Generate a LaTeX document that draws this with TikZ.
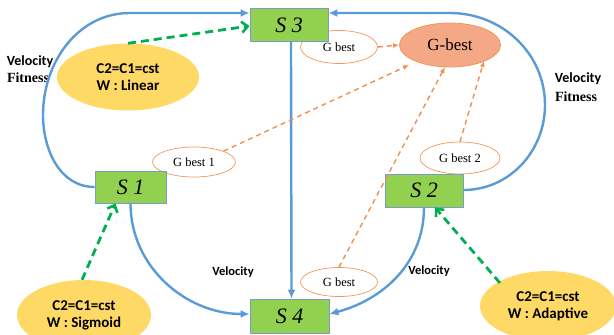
\documentclass[tikz,border=0pt]{standalone}
\usepackage{fontspec}
\setmainfont{Liberation Serif}
\newfontfamily\calib{Carlito}
\usetikzlibrary{arrows.meta,shapes.geometric}
\definecolor{lblue}{HTML}{5B9BD5}
\definecolor{boxgreen}{HTML}{92D050}
\definecolor{boxedge}{HTML}{7A9CC6}
\definecolor{ylw}{HTML}{FFD966}
\definecolor{salmon}{HTML}{F4A886}
\definecolor{orng}{HTML}{ED7D31}
\definecolor{dgreen}{HTML}{00B050}
\tikzset{
  sbox/.style={draw=boxedge, line width=0.8pt, fill=boxgreen, minimum width=78pt, minimum height=33pt, inner sep=0pt, font=\fontsize{22}{22}\selectfont\itshape},
  gsmall/.style={ellipse, draw=orng!80, line width=0.7pt, fill=white, inner sep=0pt, font=\fontsize{12.5}{13}\selectfont},
  ylwell/.style={ellipse, fill=ylw, inner sep=0pt, align=center, font=\calib\bfseries\fontsize{15}{17}\selectfont},
  bluearr/.style={draw=lblue, line width=2.4pt, -{Latex[length=9pt,width=8pt]}},
  greenarr/.style={draw=dgreen, line width=2.8pt, dash pattern=on 8pt off 5pt, -{Straight Barb[length=6pt,width=11pt,line width=2.6pt]}},
  orarr/.style={draw=orng!85, line width=1.4pt, dash pattern=on 5pt off 4pt, -{Latex[length=6pt,width=5pt]}},
  lbl/.style={font=\calib\bfseries\fontsize{14}{16}\selectfont, inner sep=0pt},
  slbl/.style={font=\calib\bfseries\fontsize{12.5}{14}\selectfont, inner sep=0pt},
  fit/.style={font=\bfseries\fontsize{14}{16}\selectfont, inner sep=0pt},
}
\begin{document}
\begin{tikzpicture}[x=1pt,y=-1pt]
\useasboundingbox (0,0) rectangle (614,335);
% small ellipses
\node[gsmall, minimum width=77pt, minimum height=33pt] (gb3) at (339,47) {G best};
\node[gsmall, minimum width=83pt, minimum height=30pt] (gb1) at (194,162) {G best 1};
\node[gsmall, minimum width=80pt, minimum height=32pt] (gb2) at (460,158) {G best 2};
\node[gsmall, minimum width=77pt, minimum height=29pt] (gb4) at (339,282) {G best};
\node[ellipse, draw=orng!80, line width=0.8pt, fill=salmon, minimum width=101pt, minimum height=44pt, inner sep=0pt, font=\fontsize{17}{18}\selectfont] (gbest) at (450,45) {G-best};
% boxes
\node[sbox] (s3) at (289,25) {S 3};
\node[sbox, minimum width=71pt, minimum height=32pt] (s1) at (130.5,187) {S 1};
\node[sbox] (s2) at (424,190.5) {S 2};
\node[sbox, minimum width=79pt, minimum height=34pt] (s4) at (289.5,316) {S 4};
% yellow ellipses
\node[ylwell, minimum width=142pt, minimum height=67pt] (yl) at (128,77) {C2=C1=cst\\W : Linear};
\node[ylwell, minimum width=134pt, minimum height=70pt] (ys) at (84,315) {C2=C1=cst\\W : Sigmoid};
\node[ylwell, minimum width=136pt, minimum height=70pt] (ya) at (548,306) {C2=C1=cst\\W : Adaptive};
% labels
\node[lbl] (v1) at (30,62) {Velocity};
\node[fit] (f1) at (28,78) {Fitness};
\node[lbl] (v2) at (578,79) {Velocity};
\node[fit] (f2) at (576,97) {Fitness};
\node[slbl] (v3) at (233,272) {Velocity};
\node[slbl] (v4) at (429,271) {Velocity};
% coordinates
\coordinate (s3l) at (s3.west |- 0,13);
\coordinate (s3r) at (s3.east |- 0,13);
\coordinate (s1l) at (s1.west |- 0,187);
\coordinate (s2r) at (s2.east |- 0,190);
\coordinate (s4l) at (s4.west |- 0,314);
\coordinate (s4r) at (s4.east |- 0,314);
% blue connectors
\draw[bluearr] (s1l) to[out=180,in=-90] (43,115) to[out=90,in=180] (130,13) -- (s3l);
\draw[bluearr] (s2r) to[out=0,in=-90] (545,105) to[out=90,in=0] (450,13) -- (s3r);
\draw[bluearr] ([xshift=2pt]s3.south) -- ([xshift=2pt]s4.north);
\draw[bluearr] (s1.south) to[out=-90,in=180] (s4l);
\draw[bluearr] (s2.south) to[out=-90,in=15] (s4r);
% green dashed
\draw[greenarr] (yl.north) -- ([yshift=-1pt]s3.west);
\draw[greenarr] ([xshift=-2pt]ys.north) -- ([xshift=-15pt]s1.south);
\draw[greenarr] (500,283) -- ([xshift=11pt]s2.south);
% orange dashed
\draw[orarr] (gb3.east) -- (gbest.west);
\draw[orarr] (gb1.north east) -- (409,65);
\draw[orarr] (gb4.north) -- (445,67);
\draw[orarr] (gb2.north) -- (484,61);
\end{tikzpicture}
\end{document}
